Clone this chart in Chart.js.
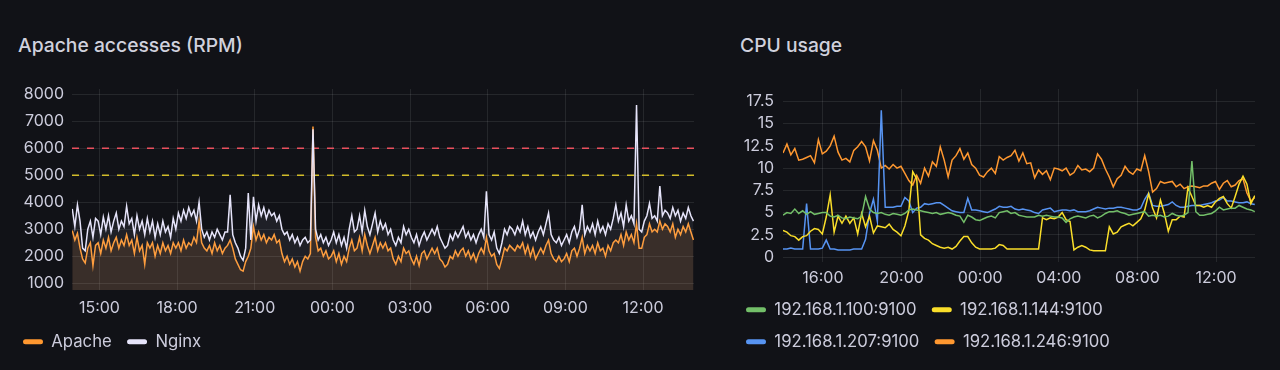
<!DOCTYPE html>
<html><head><meta charset="utf-8">
<script src="https://cdn.jsdelivr.net/npm/chart.js@4.4.1/dist/chart.umd.min.js"></script>
<style>
html,body{margin:0;padding:0;background:#111217;width:1280px;height:370px;overflow:hidden;font-family:Inter,sans-serif}
.title{position:absolute;color:#d0d1dd;font:500 19.3px Inter,sans-serif;white-space:nowrap;line-height:24px}
#t1{left:18px;top:33px}
#t2{left:740px;top:33px}
#c1{position:absolute;left:0;top:80px}
#c2{position:absolute;left:720px;top:80px}
</style></head><body>
<div class="title" id="t1">Apache accesses (RPM)</div>
<div class="title" id="t2">CPU usage</div>
<canvas id="c1" width="704" height="280"></canvas>
<canvas id="c2" width="550" height="280"></canvas>
<script>
// ---------- data: Apache accesses (RPM) ----------
const rpmStartHour = 13.95;   // 13:57 day 1
const rpmStepHours = 0.1;     // 6 min
const apacheRPM = [
2950,2600,2850,2300,1900,1750,2300,2500,1650,2400,
2500,2100,2600,2300,2700,2200,2500,2700,2300,2600,
2400,2800,2400,2600,2100,2700,2200,2400,1700,2500,
2300,2500,2000,2400,2100,2500,2200,2400,2100,2500,
2300,2500,2200,2600,2300,2500,2400,2700,2500,3300,
2500,2300,2200,2400,2100,2500,2200,2400,2100,2300,
2400,2600,2300,1900,1700,1500,1450,1800,2000,2300,
3100,2600,2900,2600,2800,2500,2700,2600,2800,2500,
2600,2100,1800,2000,1700,1900,1600,1800,1450,1800,
2000,1900,2100,6800,2700,2200,2300,2000,2200,1900,
2000,2200,1800,2100,1700,2000,1800,2300,2600,2200,
2300,2700,2200,2800,2400,2100,2400,2700,2200,2500,
2300,2500,2200,2300,1900,1700,2000,1800,2300,2100,
2200,1900,1700,2000,1650,2100,2200,1900,2100,2300,
2100,2300,1900,1800,1600,1700,2000,1900,2200,2000,
2200,2300,2000,2200,1900,2100,1800,2100,2300,2100,
2700,2200,2000,2100,1700,1550,1900,2300,2200,2400,
2300,2200,2400,2300,2500,2100,2400,2000,2300,1900,
2100,2300,2100,2400,2600,2100,1900,1800,2000,1800,
1900,2100,1800,2200,2300,2000,2300,2700,2100,2400,
2200,2400,2100,2500,2200,2300,2000,2400,2200,2500,
2600,2500,2800,2400,2900,2600,2800,2500,3200,2300,
2300,2700,2800,3200,2900,3000,2900,3300,3000,3200,
3100,2900,3200,2700,3000,2800,3100,2900,3200,2900,
2600];
const nginxRPM = [
3750,3100,3900,3300,2300,2200,3000,3300,2700,3400,
3300,2800,3450,3000,3500,2900,3300,3600,3000,3300,
3100,3850,3200,3400,2800,3500,3000,3300,2800,3400,
2900,3300,2700,3200,2800,3300,2900,3100,2700,3400,
3000,3600,3300,3700,3400,3800,3500,3700,3300,4000,
3000,2700,2900,2600,2900,2700,3000,2800,2600,2900,
2900,4270,2800,2500,2300,2000,1850,2300,4340,2600,
4200,3300,3900,3500,3800,3400,3700,3500,3600,3300,
3500,3000,2800,2900,2600,2800,2500,2700,2400,2600,
2700,2500,2600,6700,3000,2600,2800,2500,2700,2400,
2600,2900,2500,2800,2400,2700,2300,3000,3500,2900,
3000,3500,2900,3700,3100,2800,3200,3600,2900,3300,
3000,3200,2800,3000,2600,2400,2700,2500,3100,2800,
3000,2700,2500,2800,2400,2700,2900,2600,2800,3000,
2800,3100,2700,2500,2300,2400,2800,2600,2900,2700,
2900,3100,2700,2900,2600,2800,2500,2800,3000,2700,
4400,2800,2600,2900,2300,2100,2500,3000,2800,3100,
3000,2800,3100,2900,3300,2800,3100,2700,2900,2600,
2900,3100,2800,3200,3600,2800,2600,2500,2700,2400,
2600,2800,2500,2900,3100,2700,3000,3900,2800,3100,
2900,3200,2800,3300,2900,3100,2800,3200,3000,3400,
3900,3300,3600,3100,3900,3300,3500,3200,7600,3000,
2900,3300,3500,3950,3400,3500,3300,4600,3500,3700,
3600,3400,3800,3500,3700,3300,3600,3400,3800,3500,
3300];
const rpmThresholds = [5000, 6000];
const rpmXTickHours = [15, 18, 21, 24, 27, 30, 33, 36];
const rpmXTickLabels = ['15:00','18:00','21:00','00:00','03:00','06:00','09:00','12:00'];
const rpmYTicks = [1000, 2000, 3000, 4000, 5000, 6000, 7000, 8000];

// ---------- data: CPU usage ----------
const cpuStartHour = 13.97;
const cpuStepHours = 0.2;     // 12 min
const cpu100 = [
4.7,5.0,4.9,5.4,4.9, 5.2,4.8,5.1,4.8,4.9, 5.0,5.0,4.6,4.5,4.7, 4.4,4.3,4.5,4.4,4.3,
4.6,6.8,5.4,5.0,4.9, 5.0,4.8,4.7,4.9,4.8, 4.7,4.9,5.3,5.4,5.3, 5.2,5.1,5.0,4.9,5.0,
4.8,4.9,5.0,4.9,4.7, 4.6,3.9,4.7,4.5,4.2, 4.1,4.3,4.5,4.6,4.4, 5.0,5.1,5.2,4.9,5.0,
4.7,4.6,4.5,4.5,4.5, 4.7,4.6,4.7,4.6,4.5, 4.5,4.4,3.9,4.3,4.5, 4.6,4.5,4.4,4.6,4.7,
4.4,4.6,4.9,5.1,5.1, 5.2,5.0,4.9,4.7,4.8, 4.9,5.0,5.1,4.6,4.7, 4.6,4.7,4.5,4.6,4.9,
4.7,4.6,4.7,5.0,10.8, 5.1,4.7,4.7,4.8,4.9, 5.2,5.6,5.3,5.4,5.5, 5.5,5.8,5.6,5.4,5.3,
5.1];
const cpu144 = [
3.0,2.8,2.4,2.3,1.9, 2.3,2.4,2.9,3.2,3.1, 2.6,4.5,7.0,2.8,4.6, 3.8,4.6,3.8,4.4,2.6,
4.9,3.4,4.6,2.7,3.5, 3.4,3.3,3.7,3.1,2.8, 2.4,3.5,5.2,9.6,8.8, 2.5,2.1,1.9,1.5,1.3,
1.1,1.0,1.1,0.9,1.2, 1.8,2.3,2.3,1.6,1.1, 0.9,0.9,0.9,0.9,1.0, 1.4,1.3,0.9,0.9,0.9,
0.9,0.9,0.9,0.9,0.9, 0.9,4.4,4.2,4.4,4.3, 4.5,5.0,4.2,4.0,0.8, 1.1,1.3,1.1,0.8,0.7,
0.7,0.7,0.7,3.4,2.6, 2.8,3.4,3.6,3.8,3.5, 3.9,4.3,5.3,7.1,5.5, 4.4,6.4,4.9,2.9,4.2,
4.2,4.6,4.5,7.8,6.8, 5.8,5.8,5.6,5.8,5.6, 6.2,6.6,6.8,6.0,5.5, 6.8,8.2,9.1,8.2,6.0,
6.9];
const cpu207 = [
0.9,0.9,1.0,0.9,0.9, 0.9,6.0,0.9,0.9,0.9, 1.0,1.9,0.9,0.9,0.8, 0.8,0.8,0.8,0.9,0.9,
0.9,2.0,4.9,6.5,4.0, 16.5,5.6,5.6,5.6,5.7, 5.7,6.7,6.3,5.0,5.5, 5.6,6.0,5.9,6.0,6.1,
6.1,5.8,5.5,5.2,5.1, 5.0,5.0,6.6,5.3,5.3, 5.2,5.1,5.0,5.2,5.4, 5.7,5.6,5.6,5.7,5.4,
5.3,5.4,5.3,5.2,5.0, 4.9,5.3,5.4,5.5,5.1, 5.2,5.3,5.3,5.2,5.3, 5.1,5.1,5.1,5.2,5.4,
5.6,5.5,5.4,5.5,5.5, 5.6,5.6,5.5,5.4,5.3, 5.3,5.5,6.5,7.2,5.8, 5.7,5.7,5.8,5.9,6.2,
5.8,5.6,5.6,5.7,5.8, 5.8,5.8,5.9,6.0,6.1, 6.3,6.4,6.7,6.3,6.3, 6.2,6.1,6.1,6.2,6.0,
5.9];
const cpu246 = [
11.7,12.7,11.5,12.2,10.9, 11.0,11.2,11.4,10.6,13.2, 11.6,11.9,12.5,13.6,11.8, 10.9,11.1,10.7,12.0,12.4,
13.0,12.4,10.8,13.1,12.0, 10.0,10.3,9.9,10.4,10.0, 10.2,9.4,8.6,8.1,9.2, 8.3,10.0,9.1,10.7,10.2,
12.4,10.9,9.0,10.9,11.4, 12.2,11.0,11.7,10.4,10.0, 9.2,9.0,9.6,10.0,9.4, 11.3,10.9,11.2,11.4,12.0,
10.8,11.7,10.5,10.6,8.9, 9.8,9.3,9.7,8.7,10.0, 9.9,9.7,10.0,9.2,9.5, 10.3,9.8,9.9,9.6,10.0,
11.6,11.0,9.9,9.0,7.9, 8.8,9.2,10.2,9.6,9.3, 9.9,9.7,11.4,9.6,7.3, 7.7,8.5,8.3,8.4,8.5,
7.9,8.2,7.7,7.9,8.0, 7.9,7.8,8.0,8.0,8.3, 8.5,7.6,8.3,8.6,7.9, 8.1,8.6,8.8,7.2,6.3,
6.7];
const cpuSeriesNames = ['192.168.1.100:9100','192.168.1.144:9100','192.168.1.207:9100','192.168.1.246:9100'];
const cpuXTickHours = [16, 20, 24, 28, 32, 36];
const cpuXTickLabels = ['16:00','20:00','00:00','04:00','08:00','12:00'];
const cpuYTicks = [0, 2.5, 5, 7.5, 10, 12.5, 15, 17.5];

// ---------- styling ----------
const textColor = '#ccccdc';
const gridColor = 'rgba(240,250,255,0.09)';
const thresholdColors = ['#d2bc2a', '#e9505e'];
const cpuColors = ['#73bf69', '#fade2a', '#5794f2', '#ff9830'];
const legendFontSize = 16.7;
const legendPad = 15.3;
Chart.defaults.font.family = 'Inter, sans-serif';
Chart.defaults.font.size = 16;
Chart.defaults.color = textColor;

function toPoints(start, step, values) {
  return values.map((v, i) => ({ x: start + i * step, y: v }));
}
function fixedTicks(list) {
  return (scale) => { scale.ticks = list.map(v => ({ value: v })); };
}
function labelFrom(hours, labels) {
  return (value) => { const k = hours.indexOf(value); return k >= 0 ? labels[k] : ''; };
}
function legendOpts() {
  return {
    position: 'bottom', align: 'start',
    labels: {
      color: textColor, boxWidth: 20, boxHeight: 5, padding: legendPad,
      useBorderRadius: true, borderRadius: 2.5,
      font: { size: legendFontSize },
      generateLabels(chart) {
        const items = Chart.defaults.plugins.legend.labels.generateLabels(chart);
        return items
          .filter(it => !chart.data.datasets[it.datasetIndex].isThreshold)
          .map(it => {
            const ds = chart.data.datasets[it.datasetIndex];
            it.fillStyle = ds.borderColor; it.strokeStyle = ds.borderColor;
            it.lineWidth = 0; it.borderRadius = 2.5;
            return it;
          })
          .sort((a, b) => a.datasetIndex - b.datasetIndex);
      }
    }
  };
}
function yFit(width) {
  return (s) => { s.width = width; s.paddingTop = 0; s.paddingBottom = 0; };
}
function xFit(height) {
  return (s) => { s.height = height; };
}

// ---------- chart 1 ----------
const rpmXMin = 13.94, rpmXMax = 37.97;
new Chart(document.getElementById('c1'), {
  type: 'line',
  data: {
    datasets: [
      { label: 'Apache', data: toPoints(rpmStartHour, rpmStepHours, apacheRPM),
        borderColor: '#ff9830', backgroundColor: 'rgba(255,152,48,0.12)', fill: 'start', order: 1 },
      { label: 'Nginx', data: toPoints(rpmStartHour, rpmStepHours, nginxRPM),
        borderColor: '#e6e4fa', backgroundColor: 'rgba(224,224,255,0.07)', fill: 'start', order: 0 },
      ...rpmThresholds.map((v, k) => ({
        label: 'threshold ' + v, isThreshold: true,
        data: [{ x: rpmXMin, y: v }, { x: rpmXMax, y: v }],
        borderColor: thresholdColors[k], borderDash: [7, 8], borderWidth: 1.5, fill: false, order: 5
      }))
    ]
  },
  options: {
    responsive: false, animation: false, devicePixelRatio: 1,
    layout: { padding: { left: 7.7, right: 10, top: 9, bottom: 0 } },
    elements: { point: { radius: 0 }, line: { borderWidth: 1.5, tension: 0 } },
    scales: {
      x: {
        type: 'linear', min: rpmXMin, max: rpmXMax,
        grid: { color: gridColor, drawTicks: false }, border: { display: false },
        ticks: { padding: 9, autoSkip: false, maxRotation: 0, color: textColor,
                 callback: labelFrom(rpmXTickHours, rpmXTickLabels) },
        afterBuildTicks: fixedTicks(rpmXTickHours),
        afterFit: xFit(28)
      },
      y: {
        min: 750, max: 8190,
        grid: { color: gridColor, drawTicks: false }, border: { display: false },
        ticks: { padding: 8, color: textColor, callback: v => String(v) },
        afterBuildTicks: fixedTicks(rpmYTicks),
        afterFit: yFit(64.3)
      }
    },
    plugins: { legend: legendOpts(), tooltip: { enabled: false } }
  }
});

// ---------- chart 2 ----------
const cpuValues = [cpu100, cpu144, cpu207, cpu246];
new Chart(document.getElementById('c2'), {
  type: 'line',
  data: {
    datasets: cpuValues.map((vals, k) => ({
      label: cpuSeriesNames[k], data: toPoints(cpuStartHour, cpuStepHours, vals),
      borderColor: cpuColors[k], backgroundColor: cpuColors[k], fill: false
    }))
  },
  options: {
    responsive: false, animation: false, devicePixelRatio: 1,
    layout: { padding: { left: 10.7, right: 15, top: 9, bottom: 0 } },
    elements: { point: { radius: 0 }, line: { borderWidth: 1.5, tension: 0 } },
    scales: {
      x: {
        type: 'linear', min: 13.97, max: 37.98,
        grid: { color: gridColor, drawTicks: false }, border: { display: false },
        ticks: { padding: 7, autoSkip: false, maxRotation: 0, color: textColor,
                 callback: labelFrom(cpuXTickHours, cpuXTickLabels) },
        afterBuildTicks: fixedTicks(cpuXTickHours),
        afterFit: xFit(24)
      },
      y: {
        min: -0.56, max: 18.9,
        grid: { color: gridColor, drawTicks: false }, border: { display: false },
        ticks: { padding: 9, color: textColor, callback: v => String(v) },
        afterBuildTicks: fixedTicks(cpuYTicks),
        afterFit: yFit(52.3)
      }
    },
    plugins: { legend: legendOpts(), tooltip: { enabled: false } }
  }
});
</script>
</body></html>
